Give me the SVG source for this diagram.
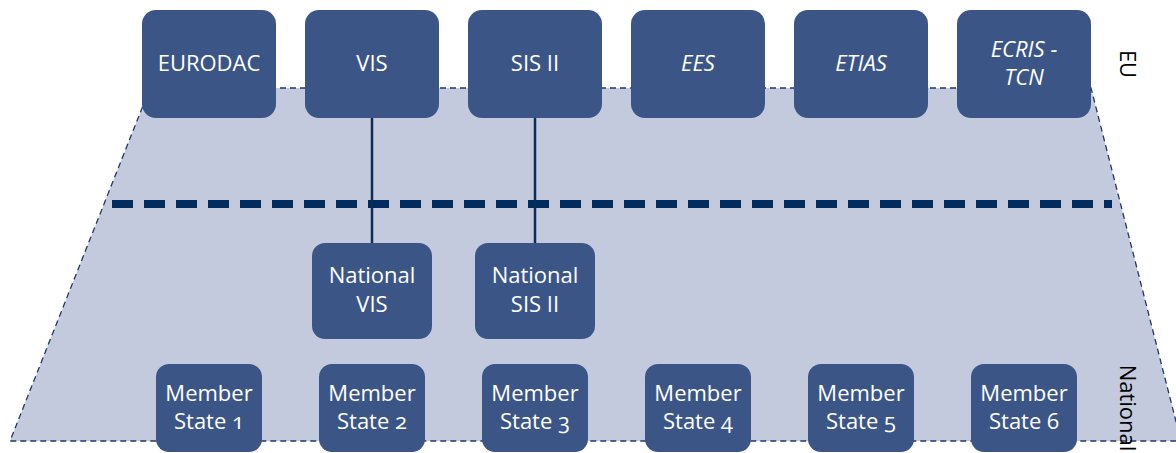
<svg xmlns="http://www.w3.org/2000/svg" width="1176" height="453" viewBox="0 0 1176 453">
<style>
.box{fill:#3b5686;}
.t{font-family:"Open Sans","Noto Sans",sans-serif;font-size:22px;fill:#ffffff;text-anchor:middle;font-variant-numeric:oldstyle-nums;}
.i{font-style:italic;}
.lbl{font-family:"Open Sans","Noto Sans",sans-serif;font-size:22px;fill:#000000;text-anchor:middle;}
.conn{stroke:#0e2b58;stroke-width:2.5;fill:none;}
</style>
<g id="zone">
<polygon points="150,88 1091,88 1181,441 10,441" fill="#c4cadd" stroke="#1d3868" stroke-width="1.3" stroke-dasharray="6 4"/>
<line x1="112" y1="204" x2="1112" y2="204" stroke="#002c5f" stroke-width="8" stroke-dasharray="21 11"/>
</g>
<g id="connectors">
<line class="conn" x1="372" y1="117" x2="372" y2="243"/>
<line class="conn" x1="535" y1="117" x2="535" y2="243"/>
</g>
<g id="eurodac"><rect class="box" x="142" y="10" width="134" height="108" rx="14"/><text class="t" x="209" y="71">EURODAC</text></g>
<g id="vis"><rect class="box" x="305" y="10" width="134" height="108" rx="14"/><text class="t" x="372" y="71">VIS</text></g>
<g id="sis"><rect class="box" x="468" y="10" width="134" height="108" rx="14"/><text class="t" x="535" y="71">SIS II</text></g>
<g id="ees"><rect class="box" x="631" y="10" width="134" height="108" rx="14"/><text class="t i" x="698" y="71">EES</text></g>
<g id="etias"><rect class="box" x="794" y="10" width="134" height="108" rx="14"/><text class="t i" x="861" y="71">ETIAS</text></g>
<g id="ecris"><rect class="box" x="957" y="10" width="134" height="108" rx="14"/><text class="t i" x="1024" y="57">ECRIS -</text><text class="t i" x="1024" y="85">TCN</text></g>
<g id="natvis"><rect class="box" x="312" y="243" width="120" height="96" rx="13"/><text class="t" x="372" y="283">National</text><text class="t" x="372" y="312">VIS</text></g>
<g id="natsis"><rect class="box" x="475" y="243" width="120" height="96" rx="13"/><text class="t" x="535" y="283">National</text><text class="t" x="535" y="312">SIS II</text></g>
<g id="ms1"><rect class="box" x="156" y="364" width="106" height="88" rx="13"/><text class="t" x="209" y="401">Member</text><text class="t" x="209" y="429">State 1</text></g>
<g id="ms2"><rect class="box" x="319" y="364" width="106" height="88" rx="13"/><text class="t" x="372" y="401">Member</text><text class="t" x="372" y="429">State 2</text></g>
<g id="ms3"><rect class="box" x="482" y="364" width="106" height="88" rx="13"/><text class="t" x="535" y="401">Member</text><text class="t" x="535" y="429">State 3</text></g>
<g id="ms4"><rect class="box" x="645" y="364" width="106" height="88" rx="13"/><text class="t" x="698" y="401">Member</text><text class="t" x="698" y="429">State 4</text></g>
<g id="ms5"><rect class="box" x="808" y="364" width="106" height="88" rx="13"/><text class="t" x="861" y="401">Member</text><text class="t" x="861" y="429">State 5</text></g>
<g id="ms6"><rect class="box" x="971" y="364" width="106" height="88" rx="13"/><text class="t" x="1024" y="401">Member</text><text class="t" x="1024" y="429">State 6</text></g>
<g id="labels">
<text class="lbl" transform="translate(1120,64) rotate(90)">EU</text>
<text class="lbl" transform="translate(1120,408) rotate(90)">National</text>
</g>
</svg>
